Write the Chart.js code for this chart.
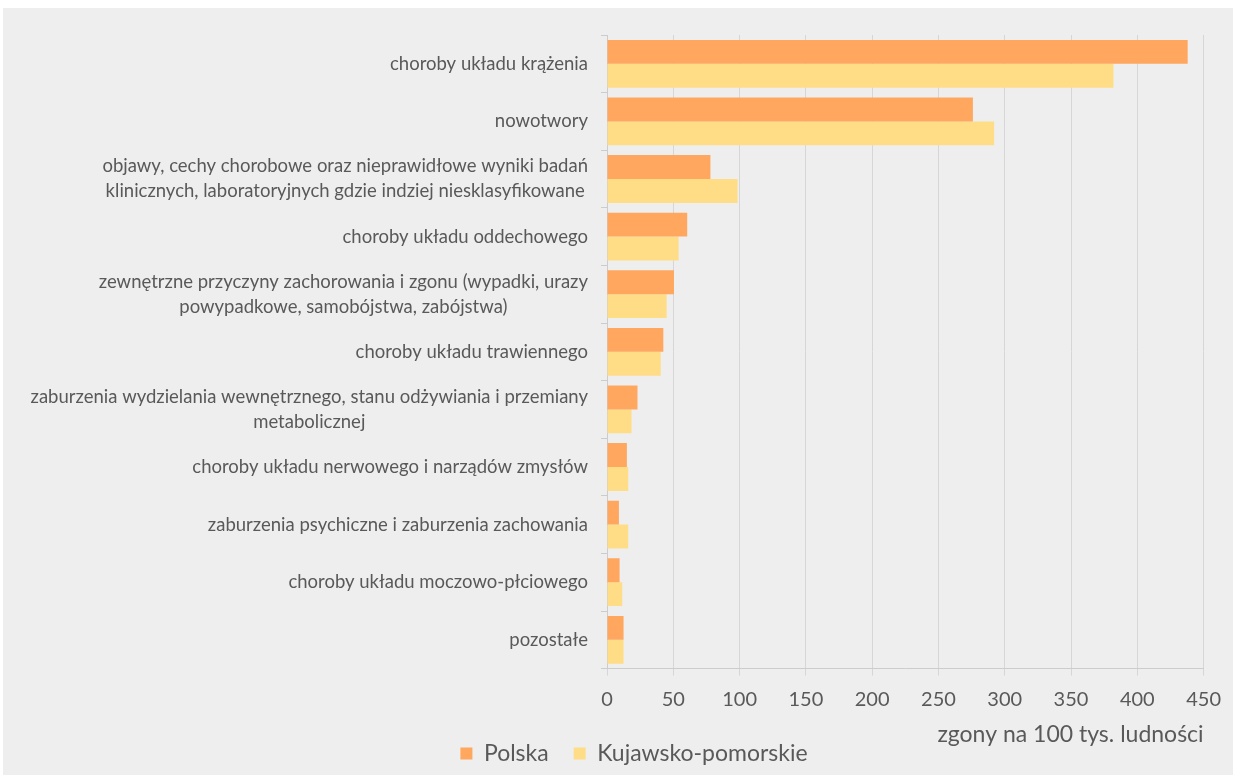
<!DOCTYPE html>
<html>
<head>
<meta charset="utf-8">
<script src="https://cdn.jsdelivr.net/npm/chart.js@4.4.0/dist/chart.umd.min.js"></script>
<style>
  html, body { margin: 0; padding: 0; background: #fff; }
  #box { position: absolute; left: 3px; top: 8px; width: 1230px; height: 767px; background: #eeeeee; }
</style>
</head>
<body>
<div id="box"><canvas id="chart"></canvas></div>
<script>
const categories = [
  ['choroby układu krążenia'],
  ['nowotwory'],
  ['objawy, cechy chorobowe oraz nieprawidłowe wyniki badań', 'klinicznych, laboratoryjnych gdzie indziej niesklasyfikowane'],
  ['choroby układu oddechowego'],
  ['zewnętrzne przyczyny zachorowania i zgonu (wypadki, urazy', 'powypadkowe, samobójstwa, zabójstwa)'],
  ['choroby układu trawiennego'],
  ['zaburzenia wydzielania wewnętrznego, stanu odżywiania i przemiany', 'metabolicznej'],
  ['choroby układu nerwowego i narządów zmysłów'],
  ['zaburzenia psychiczne i zaburzenia zachowania'],
  ['choroby układu moczowo-płciowego'],
  ['pozostałe'],
];
const polska = [438, 276, 78, 60.5, 50.5, 42.5, 23, 15, 9, 9.5, 12.5];
const kujawsko = [382, 292, 98.5, 54, 45, 40.5, 18.5, 16, 16, 11.5, 12.5];
const xTicks = [0, 50, 100, 150, 200, 250, 300, 350, 400, 450];
const axisTitle = 'zgony na 100 tys. ludności';

const TEXT = '#595959';
const FONT = 'Lato';

// category labels: block right-aligned to the axis, lines centred inside the block (Excel style)
const catLabels = {
  id: 'catLabels',
  afterDraw(chart) {
    const s = chart.scales.y;
    const ctx = chart.ctx;
    ctx.save();
    ctx.font = `18.5px ${FONT}`;
    ctx.fillStyle = TEXT;
    ctx.textAlign = 'center';
    ctx.textBaseline = 'middle';
    categories.forEach((lines, i) => {
      const y = s.getPixelForTick(i);
      const w = Math.max(...lines.map((l) => ctx.measureText(l).width));
      const cx = s.right - 19 - w / 2;
      lines.forEach((l, j) => ctx.fillText(l, cx, y + (j - (lines.length - 1) / 2) * 25));
    });
    ctx.restore();
  },
};

new Chart(document.getElementById('chart'), {
  type: 'bar',
  data: {
    labels: categories.map((l) => l.join(' ')),
    datasets: [
      { label: 'Polska', data: polska, backgroundColor: '#ffa75e' },
      { label: 'Kujawsko-pomorskie', data: kujawsko, backgroundColor: '#ffdd87' },
    ],
  },
  options: {
    indexAxis: 'y',
    responsive: true,
    maintainAspectRatio: false,
    animation: false,
    layout: { padding: { left: 61, top: 27, right: 29, bottom: 0 } },
    datasets: { bar: { categoryPercentage: 0.83, barPercentage: 1 } },
    plugins: {
      legend: {
        position: 'bottom',
        labels: {
          font: { family: FONT, size: 23 },
          color: TEXT,
          boxWidth: 12,
          boxHeight: 12,
          padding: 25,
        },
      },
      tooltip: { enabled: true },
    },
    scales: {
      x: {
        min: 0,
        max: 450,
        afterBuildTicks: (s) => { s.ticks = xTicks.map((v) => ({ value: v })); },
        ticks: { font: { family: FONT, size: 20 }, color: TEXT, padding: 12 },
        grid: { color: '#d6d6d6', tickLength: 7 },
        border: { color: '#cccccc' },
        title: {
          display: true,
          text: axisTitle,
          align: 'end',
          font: { family: FONT, size: 23 },
          color: TEXT,
          padding: { top: 0, bottom: -31 },
        },
        afterFit: (s) => { s.height = 48.4; },
      },
      y: {
        ticks: { display: false },
        grid: { offset: true, drawOnChartArea: false, tickLength: 6, color: '#cccccc' },
        border: { color: '#cccccc' },
        afterFit: (s) => { s.width = 543; },
      },
    },
  },
  plugins: [catLabels],
});
</script>
</body>
</html>
